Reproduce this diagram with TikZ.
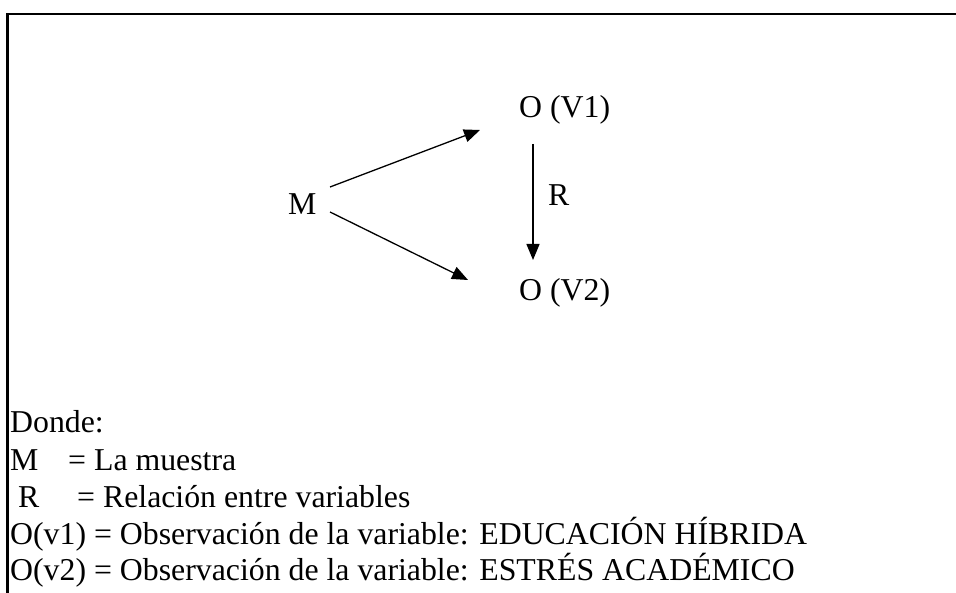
\documentclass[tikz,border=0pt]{standalone}
\usepackage{fontspec}
\setmainfont{Liberation Serif}
\usetikzlibrary{arrows.meta}
\begin{document}
\begin{tikzpicture}[x=1pt,y=-1pt,
  txt/.style={inner sep=0pt,anchor=base west,font=\fontsize{31.8}{38}\selectfont},
  conn/.style={line width=1.3pt,-{Triangle[length=16pt,width=13pt]}},
  frame/.style={line width=2.6pt}]
\useasboundingbox (0,0) rectangle (956,593);
% frame
\coordinate (tl) at (7.5,14);
\coordinate (tr) at (956,14);
\coordinate (bl) at (7.5,593);
\draw[frame] (tr) -- (tl) -- (bl);
% diagram
\node[txt] (M) at (288,215) {M};
\node[txt] (V1) at (519,118) {O (V1)};
\node[txt] (V2) at (519,301) {O (V2)};
\node[txt] (R) at (548,206) {R};
\coordinate (m1) at (330,187);
\coordinate (v1e) at (480,130);
\coordinate (m2) at (330,212);
\coordinate (v2e) at (468,280);
\coordinate (rs) at (533,144);
\coordinate (re) at (533,260);
\draw[conn] (m1) -- (v1e);
\draw[conn] (m2) -- (v2e);
\draw[conn] (rs) -- (re);
% legend
\node[txt] (donde) at (10,433) {Donde:};
\node[txt] (lm) at (10,470) {M};
\node[txt] (lmd) at (68,470) {= La muestra};
\node[txt] (lr) at (18,507) {R};
\node[txt] (lrd) at (77,507) {= Relación entre variables};
\node[txt] (lo1) at (10,544) {O(v1) = Observación de la variable: EDUCACIÓN HÍBRIDA};
\node[txt] (lo2) at (10,580) {O(v2) = Observación de la variable: ESTRÉS ACADÉMICO};
\end{tikzpicture}
\end{document}
